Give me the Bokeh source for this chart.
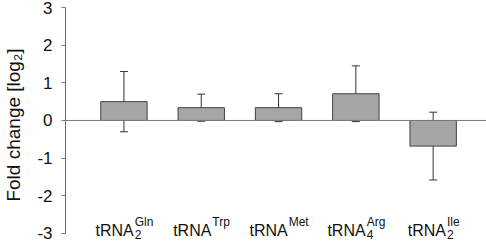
from bokeh.plotting import figure
from bokeh.models import ColumnDataSource, Whisker, TeeHead, Label, Span, Range1d, FixedTicker
from bokeh.embed import file_html
from bokeh.resources import INLINE

# data
names = ["tRNA", "tRNA", "tRNA", "tRNA", "tRNA"]
subs = ["2", "", "", "4", "2"]
sups = ["Gln", "Trp", "Met", "Arg", "Ile"]
fold = [0.50, 0.34, 0.34, 0.71, -0.68]
err = [0.80, 0.36, 0.37, 0.74, 0.90]
yticks = [-3, -2, -1, 0, 1, 2, 3]
ytick_labels = ["-3", "-2", "-1", "0", "1", "2", "3"]

xs = list(range(1, len(fold) + 1))
upper = [v + e for v, e in zip(fold, err)]
lower = [v - e for v, e in zip(fold, err)]
src = ColumnDataSource(dict(x=xs, top=fold, upper=upper, lower=lower))

FONT = "Liberation Sans"
p = figure(width=486, height=242, output_backend="svg", toolbar_location=None,
           x_range=Range1d(0.244, 5.69), y_range=Range1d(-3.24, 3),
           min_border_left=64, min_border_right=0, min_border_top=7, min_border_bottom=0)
p.outline_line_color = None
p.grid.visible = False
p.xaxis.visible = False
p.background_fill_color = "white"
p.border_fill_color = "white"

ya = p.yaxis[0]
ya.ticker = FixedTicker(ticks=yticks)
ya.bounds = (-3, 3)
ya.major_label_overrides = {t: s for t, s in zip(yticks, ytick_labels)}
ya.minor_tick_line_color = None
ya.major_tick_out = 4
ya.major_tick_in = 0
ya.axis_line_color = "#6a6a6a"
ya.major_tick_line_color = "#7a7a7a"
ya.major_label_text_font = FONT
ya.major_label_text_font_size = "17px"
ya.major_label_text_color = "#111111"
ya.major_label_standoff = 9
ya.axis_label = "Fold change [log\u2082]"
ya.axis_label_text_font = FONT
ya.axis_label_text_font_style = "normal"
ya.axis_label_text_font_size = "19px"
ya.axis_label_text_color = "#111111"
ya.axis_label_standoff = 10

p.add_layout(Span(location=0, dimension="width", line_color="#7a7a7a", line_width=1))

p.vbar(x="x", top="top", bottom=0, width=0.6, source=src,
       fill_color="#a6a6a6", line_color="#404040", line_width=1)

w = Whisker(base="x", upper="upper", lower="lower", source=src,
            line_color="#333333", line_width=1,
            upper_head=TeeHead(size=8, line_color="#333333", line_width=1),
            lower_head=TeeHead(size=8, line_color="#333333", line_width=1))
p.add_layout(w)

# category labels with sub/superscripts
arial = {"G": .778, "l": .222, "n": .556, "T": .611, "r": .333, "p": .556, "M": .833,
         "e": .556, "t": .278, "A": .667, "g": .556, "I": .278, "2": .556, "4": .556}
MAIN = 16
SMALL = 12
for i, x in enumerate(xs):
    wmain = MAIN * (0.278 + 0.722 + 0.722 + 0.667)
    wsup = SMALL * sum(arial.get(c, .6) for c in sups[i])
    wsub = SMALL * sum(arial.get(c, .6) for c in subs[i])
    wsuf = max(wsup, wsub)
    dx = (wmain - wsuf) / 2
    p.add_layout(Label(x=x, y=-2.92, x_offset=dx, text=names[i], text_align="right",
                       text_baseline="alphabetic", text_font=FONT,
                       text_font_size=f"{MAIN}px", text_color="#111111"))
    p.add_layout(Label(x=x, y=-2.70, x_offset=dx + 1, text=sups[i], text_align="left",
                       text_baseline="alphabetic", text_font=FONT,
                       text_font_size=f"{SMALL}px", text_color="#111111"))
    if subs[i]:
        p.add_layout(Label(x=x, y=-3.03, x_offset=dx + 1, text=subs[i], text_align="left",
                           text_baseline="alphabetic", text_font=FONT,
                           text_font_size=f"{SMALL}px", text_color="#111111"))

open("out.html", "w").write(file_html(p, INLINE))
